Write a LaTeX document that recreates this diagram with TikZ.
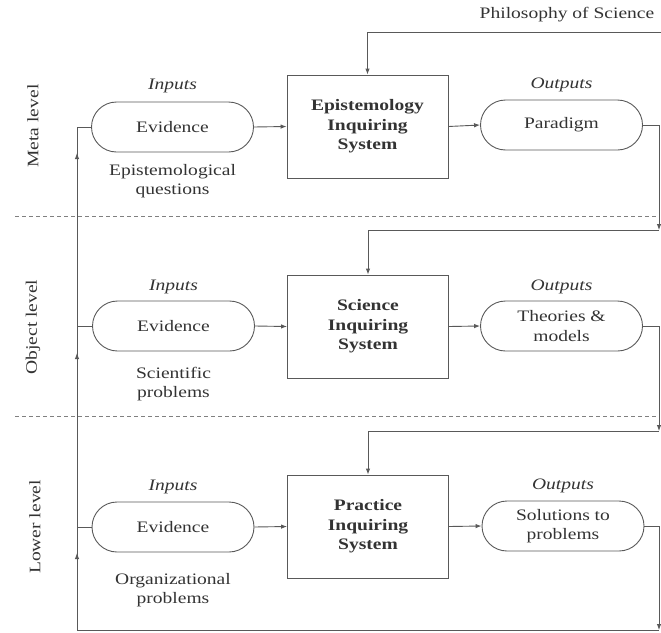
\documentclass[tikz,border=0pt]{standalone}
\usepackage{fontspec}
\setmainfont{Liberation Serif}[FakeStretch=1.22]
\usetikzlibrary{shapes.misc,arrows.meta,calc}
\begin{document}
\begin{tikzpicture}[x=1pt,y=-1pt,
  font=\fontsize{16}{19.5}\selectfont,
  stadium/.style={draw=black!65, line width=0.9pt, rounded rectangle, minimum width=162pt, minimum height=50pt, inner sep=0pt, align=center, text=black!80},
  sysbox/.style={draw=black!65, line width=0.9pt, minimum width=161pt, minimum height=103pt, inner sep=0pt, align=center, font=\fontsize{16}{19.5}\selectfont\bfseries, text=black!80},
  conn/.style={draw=black!65, line width=0.9pt},
  arr/.style={conn, -{Latex[length=6pt,width=4.5pt]}},
  lvl/.style={rotate=90, text=black!80, inner sep=0pt},
  lab/.style={text=black!80, align=center, inner sep=0pt},
  itlab/.style={lab, font=\fontsize{16}{19.5}\selectfont\itshape},
  sep/.style={draw=black!50, line width=0.8pt, dash pattern=on 4pt off 3pt}
]
\useasboundingbox (0,0) rectangle (661,632);

% level labels
\node[lvl] (lv1) at (33,126) {Meta level};
\node[lvl] (lv2) at (33,327) {Object level};
\node[lvl] (lv3) at (35,527) {Lower level};

% separators
\coordinate (d1a) at (15,216); \coordinate (d1b) at (656,216);
\coordinate (d2a) at (15,416); \coordinate (d2b) at (656,416);
\draw[sep] (d1a) -- (d1b);
\draw[sep] (d2a) -- (d2b);

% row 1
\node[stadium] (ev1) at (172.5,127) {Evidence};
\node[sysbox] (sys1) at (367.5,126.5) {Epistemology\\Inquiring\\System};
\node[stadium] (out1) at (561.5,125) {Paradigm};
\node[itlab] (in1) at (172.5,86) {Inputs};
\node[itlab] (op1) at (561.5,85) {Outputs};
\node[lab] (q1) at (172.5,181) {Epistemological\\questions};

% row 2
\node[stadium] (ev2) at (173.5,326) {Evidence};
\node[sysbox] (sys2) at (368,326.5) {Science\\Inquiring\\System};
\node[stadium] (out2) at (561.5,326) {Theories \&\\models};
\node[itlab] (in2) at (173.5,287) {Inputs};
\node[itlab] (op2) at (561.5,287) {Outputs};
\node[lab] (q2) at (173.5,384) {Scientific\\problems};

% row 3
\node[stadium] (ev3) at (173,527) {Evidence};
\node[sysbox] (sys3) at (368,526.5) {Practice\\Inquiring\\System};
\node[stadium] (out3) at (563,526) {Solutions to\\problems};
\node[itlab] (in3) at (173,487) {Inputs};
\node[itlab] (op3) at (563,486) {Outputs};
\node[lab] (q3) at (173,590) {Organizational\\problems};

% philosophy of science
\node[lab] (phil) at (567,15) {Philosophy of Science};
\coordinate (ps) at (661,32);
\draw[arr] (ps) -| (sys1.north);

% horizontal flows
\draw[arr] (ev1.east) -- (sys1.west);
\draw[arr] (sys1.east) -- (out1.west);
\draw[arr] (ev2.east) -- (sys2.west);
\draw[arr] (sys2.east) -- (out2.west);
\draw[arr] (ev3.east) -- (sys3.west);
\draw[arr] (sys3.east) -- (out3.west);

% right-hand feedback
\coordinate (r1) at (659,230);
\coordinate (r2) at (659,431);
\coordinate (r3) at (659,630);
\draw[arr] (out1.east) -| (r1);
\draw[arr] (r1) -| (sys2.north);
\draw[arr] (out2.east) -| (r2);
\draw[arr] (r2) -| (sys3.north);
\draw[arr] (out3.east) -| (r3);

% bottom and left return line
\coordinate (bl) at (77,630);
\coordinate (l2) at (77,326);
\coordinate (l3) at (77,527);
\coordinate (a1) at (77,153);
\coordinate (a2) at (77,353);
\coordinate (a3) at (77,553);
\draw[conn] (r3) -- (bl);
\draw[conn] (bl) |- (ev1.west);
\draw[conn] (l2) -- (ev2.west);
\draw[conn] (l3) -- (ev3.west);
\draw[arr] (bl) -- (a3);
\draw[arr] (l3) -- (a2);
\draw[arr] (l2) -- (a1);
\end{tikzpicture}
\end{document}
